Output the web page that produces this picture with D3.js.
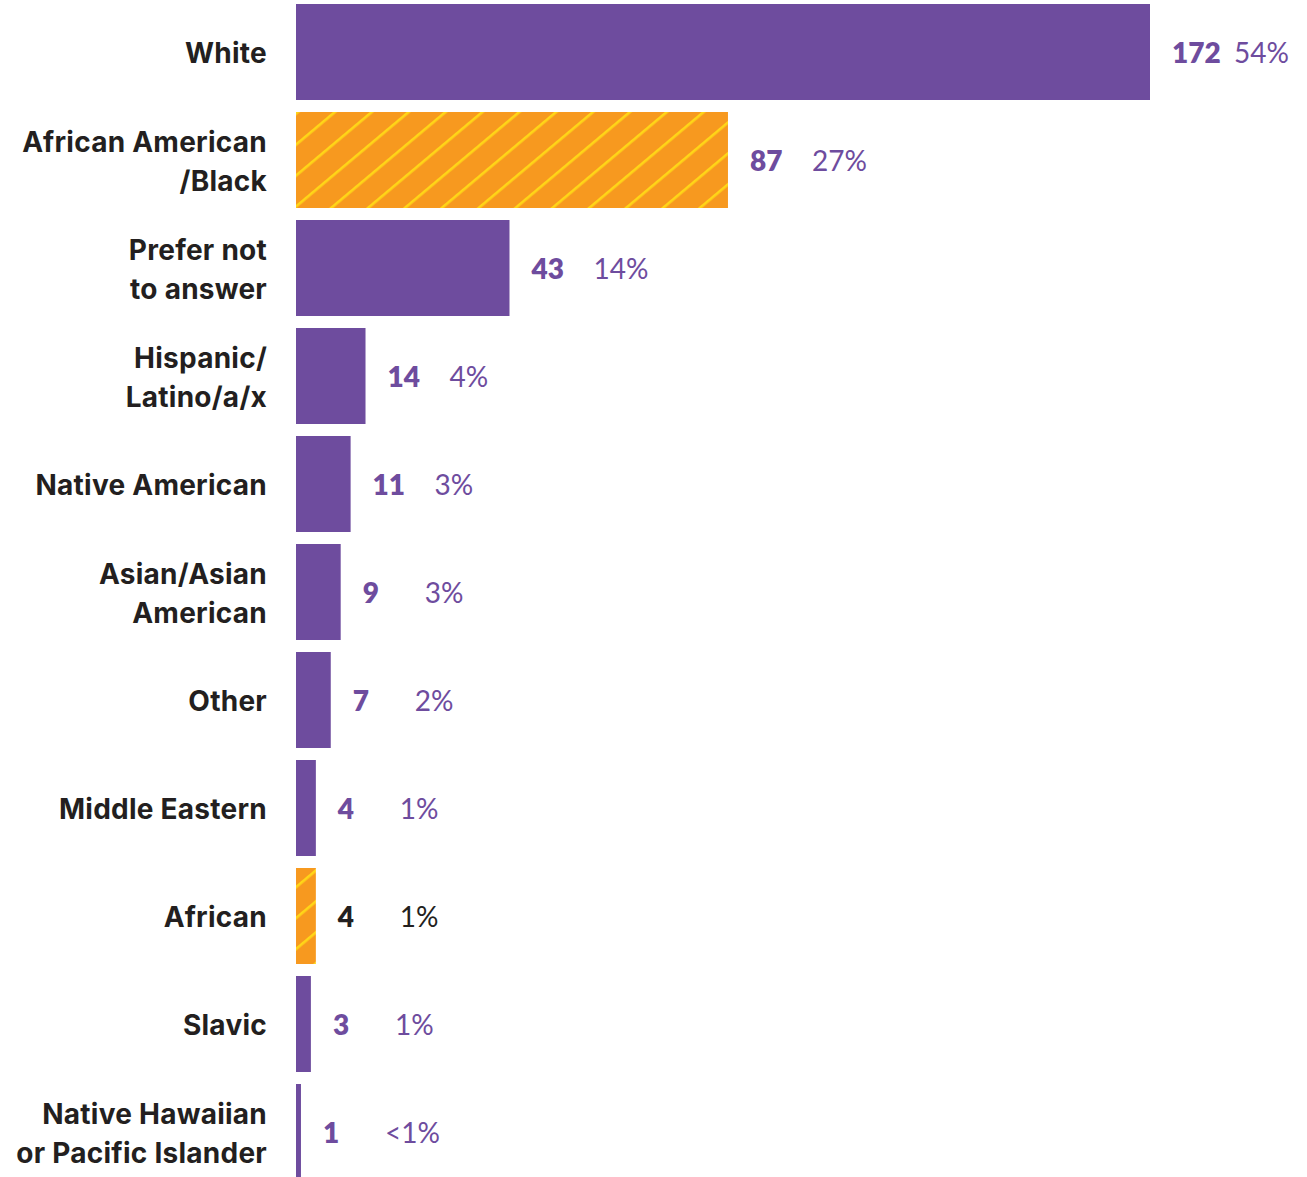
<!DOCTYPE html>
<html>
<head>
<meta charset="utf-8">
<script src="https://cdn.jsdelivr.net/npm/d3@7"></script>
<style>
  body { margin: 0; background: #fff; }
  svg { display: block; }
  text { font-family: Lato, "Noto Sans", sans-serif; }
  .cat { font-family: Inter, Lato, sans-serif; letter-spacing: 0.25px; }
</style>
</head>
<body>
<div id="wrapper"></div>
<script>
// categories, one array of lines per label
var categories = [
    ["White"],
    ["African American", "/Black"],
    ["Prefer not", "to answer"],
    ["Hispanic/", "Latino/a/x"],
    ["Native American"],
    ["Asian/Asian", "American"],
    ["Other"],
    ["Middle Eastern"],
    ["African"],
    ["Slavic"],
    ["Native Hawaiian", "or Pacific Islander"]
];
var counts = [172, 87, 43, 14, 11, 9, 7, 4, 4, 3, 1];
var percents = ["54%", "27%", "14%", "4%", "3%", "3%", "2%", "1%", "1%", "1%", "<1%"];
var highlighted = ["African American/Black", "African"];

var dimension = {
    width: 1307,
    height: 1177,
    barLeft: 296,
    barTop: 4,
    step: 108,
    barHeight: 96,
    labelRight: 267
}

var purple = "#6e4c9e";
var orange = "#f7991f";
var hatch = "#ffd617";
var dark = "#231f20";

var rows = categories.map((c, i) => ({
    key: c.join(""),
    lines: c,
    count: counts[i],
    pct: percents[i]
}));
rows.forEach(d => d.hl = highlighted.includes(d.key));

const svg = d3.select("#wrapper")
    .append("svg")
    .attr("width", dimension.width)
    .attr("height", dimension.height);

const pattern = svg.append("defs")
    .append("pattern")
    .attr("id", "hatch")
    .attr("patternUnits", "userSpaceOnUse")
    .attr("width", 20)
    .attr("height", 23.7)
    .attr("patternTransform", "translate(296,112) rotate(-40)");
pattern.append("rect")
    .attr("width", 20).attr("height", 23.7)
    .attr("fill", orange);
pattern.append("rect")
    .attr("y", 0).attr("width", 20).attr("height", 2.6)
    .attr("fill", hatch);

const xScale = d3.scaleLinear()
    .domain([0, 172])
    .range([dimension.barLeft, 1150]);

const padding = (dimension.step - dimension.barHeight) / dimension.step;
const yScale = d3.scaleBand()
    .domain(rows.map(d => d.key))
    .range([dimension.barTop, dimension.barTop + dimension.step * rows.length - (dimension.step - dimension.barHeight)])
    .paddingInner(padding)
    .paddingOuter(0);

svg.append("g")
    .selectAll("rect")
    .data(rows)
    .enter()
    .append("rect")
    .attr("x", xScale(0))
    .attr("y", d => yScale(d.key))
    .attr("width", d => xScale(d.count) - xScale(0))
    .attr("height", yScale.bandwidth())
    .attr("fill", d => d.hl ? "url(#hatch)" : purple);

// category labels
const labels = svg.append("g")
    .selectAll("text")
    .data(rows)
    .enter()
    .append("text")
    .attr("class", "cat")
    .attr("text-anchor", "end")
    .attr("font-size", 28)
    .attr("font-weight", 700)
    .attr("fill", dark);

labels.selectAll("tspan")
    .data(d => d.lines.map((l, i) => ({l: l, i: i, n: d.lines.length, key: d.key})))
    .enter()
    .append("tspan")
    .attr("x", dimension.labelRight)
    .attr("y", t => yScale(t.key) + yScale.bandwidth() / 2 + (t.i - (t.n - 1) / 2) * 39 + 1)
    .attr("dy", "0.36em")
    .text(t => t.l);

// values
const vals = svg.append("g")
    .selectAll("g")
    .data(rows)
    .enter()
    .append("g")
    .attr("transform", d => `translate(${xScale(d.count) + 22}, ${yScale(d.key) + yScale.bandwidth() / 2 + 1})`);

vals.append("text")
    .attr("dy", "0.36em")
    .attr("font-size", 28)
    .attr("font-weight", 800)
    .attr("fill", d => d.hl && d.count < 10 ? dark : purple)
    .text(d => d.count);

vals.append("text")
    .attr("x", 62)
    .attr("dy", "0.36em")
    .attr("font-size", 28)
    .attr("font-weight", 400)
    .attr("fill", d => d.hl && d.count < 10 ? dark : purple)
    .text(d => d.pct);
</script>
</body>
</html>
